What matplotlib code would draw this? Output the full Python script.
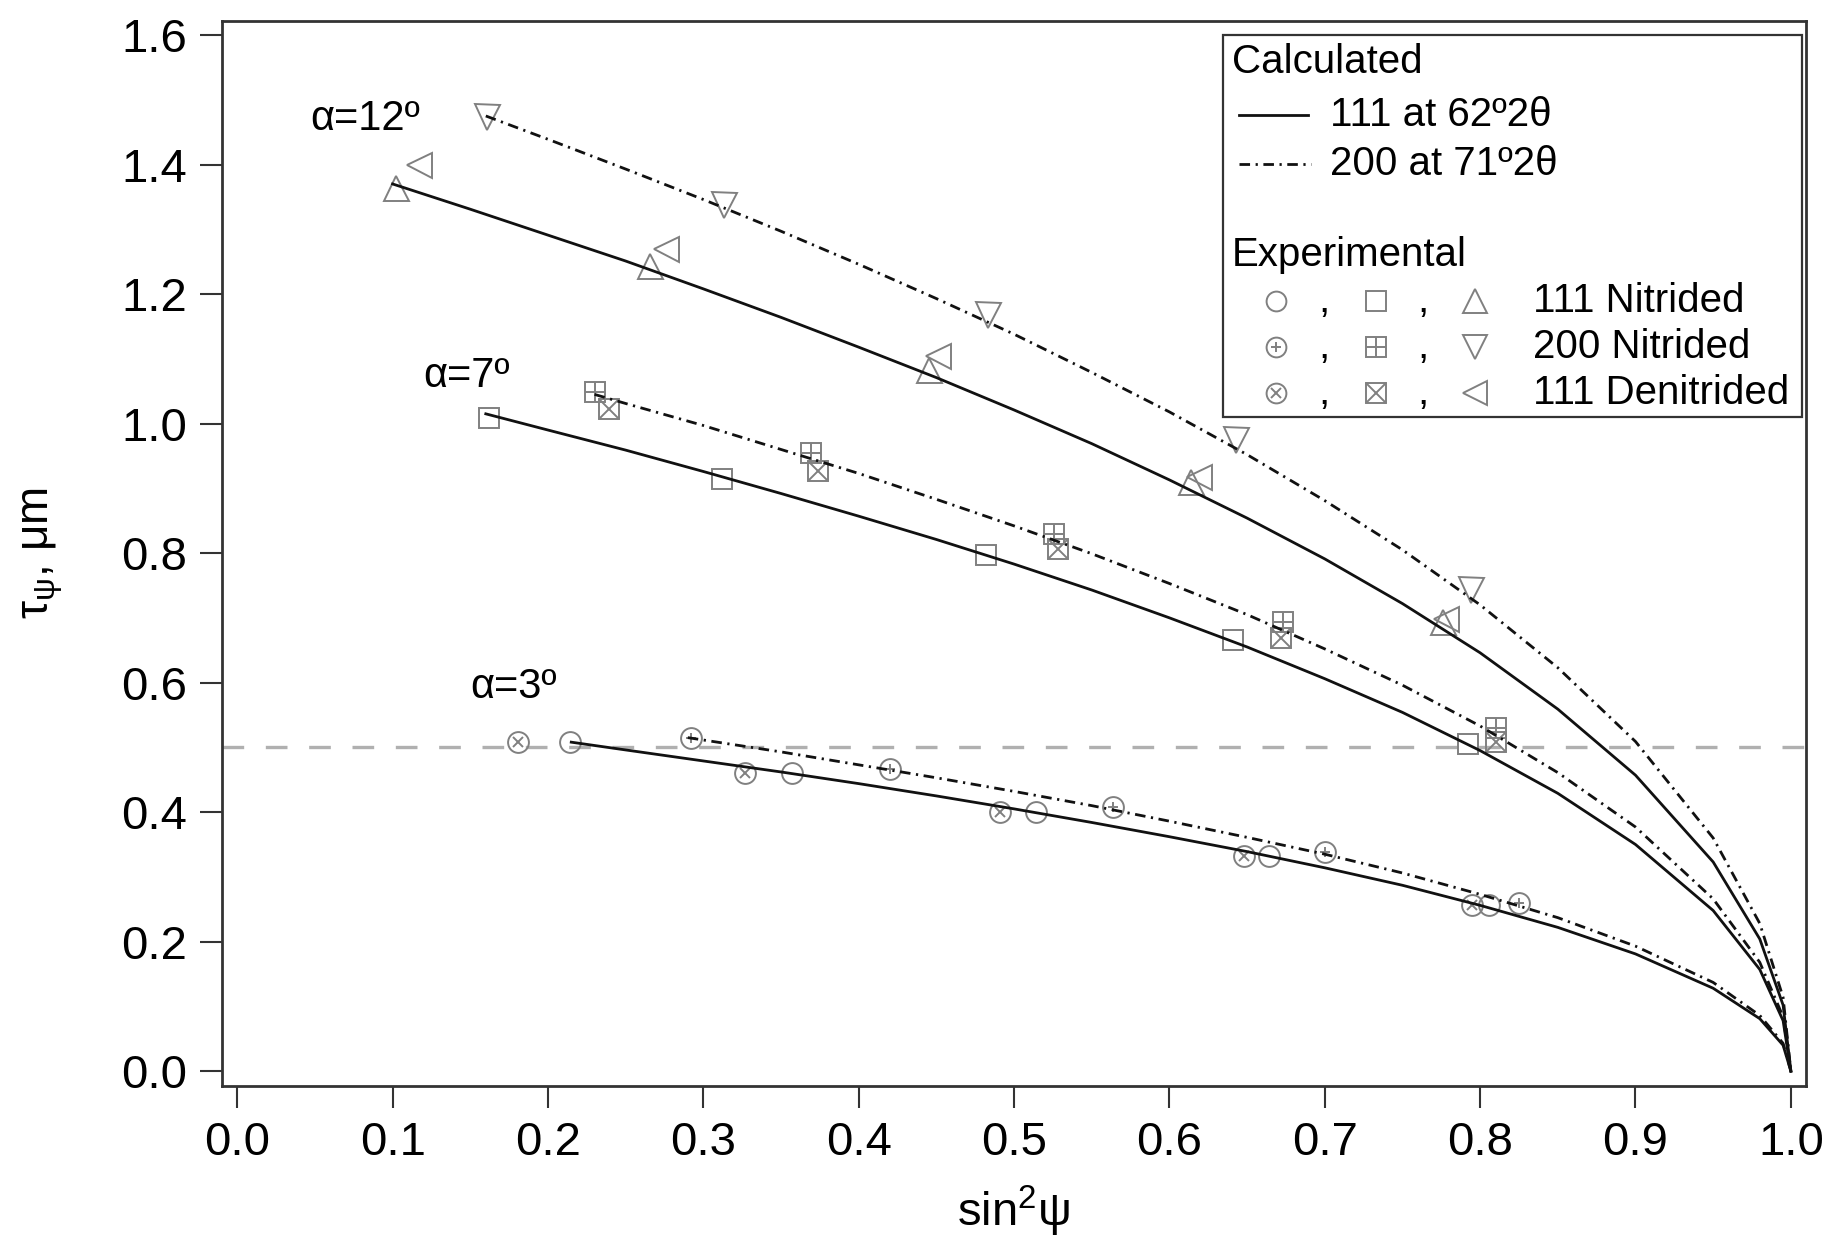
import numpy as np
import matplotlib
matplotlib.use('Agg')
import matplotlib.pyplot as plt
from matplotlib.patches import Rectangle

plt.rcParams['font.family'] = ['Liberation Sans', 'DejaVu Sans']
plt.rcParams['mathtext.fontset'] = 'custom'
plt.rcParams['mathtext.rm'] = 'Liberation Sans'
plt.rcParams['mathtext.it'] = 'Liberation Sans'
plt.rcParams['mathtext.default'] = 'regular'

# calculated curves
grid_a = [0.20, 0.25, 0.30, 0.35, 0.40, 0.45, 0.50, 0.55, 0.60, 0.65, 0.70, 0.75, 0.80, 0.85,
          0.90, 0.95, 0.98, 0.995, 1.0]
calc_x_12_111 = [0.10, 0.15] + grid_a
calc_t_12_111 = [1.37, 1.331, 1.291, 1.251, 1.208, 1.164, 1.118, 1.071, 1.021, 0.969, 0.913,
                 0.854, 0.791, 0.722, 0.646, 0.559, 0.457, 0.323, 0.204, 0.102, 0.0]
calc_x_12_200 = [0.16] + grid_a
calc_t_12_200 = [1.475, 1.439, 1.393, 1.346, 1.297, 1.246, 1.193, 1.138, 1.079, 1.018, 0.952,
                 0.881, 0.805, 0.72, 0.623, 0.509, 0.36, 0.228, 0.114, 0.0]
calc_x_7_111 = [0.16] + grid_a
calc_t_7_111 = [1.015, 0.99, 0.959, 0.926, 0.892, 0.857, 0.821, 0.783, 0.743, 0.70, 0.655,
                0.606, 0.554, 0.495, 0.429, 0.35, 0.248, 0.157, 0.078, 0.0]
calc_x_7_200 = [0.23] + grid_a[1:]
calc_t_7_200 = [1.045, 1.031, 0.997, 0.96, 0.923, 0.883, 0.842, 0.799, 0.753, 0.705, 0.652,
                0.596, 0.533, 0.461, 0.377, 0.266, 0.168, 0.084, 0.0]
calc_x_3_111 = [0.215] + grid_a[1:]
calc_t_3_111 = [0.508, 0.496, 0.479, 0.462, 0.444, 0.425, 0.405, 0.384, 0.362, 0.339, 0.314,
                0.287, 0.256, 0.222, 0.181, 0.128, 0.081, 0.040, 0.0]
calc_x_3_200 = [0.29] + grid_a[3:]
calc_t_3_200 = [0.515, 0.493, 0.473, 0.453, 0.432, 0.41, 0.386, 0.361, 0.335, 0.306, 0.273,
                0.237, 0.193, 0.137, 0.086, 0.043, 0.0]

# experimental points
# alpha = 3
x_3_111N = [0.214, 0.357, 0.514, 0.664, 0.806]
t_3_111N = [0.509, 0.460, 0.400, 0.332, 0.256]
x_3_200N = [0.292, 0.420, 0.564, 0.700, 0.825]
t_3_200N = [0.514, 0.467, 0.408, 0.339, 0.260]
x_3_111D = [0.181, 0.327, 0.491, 0.648, 0.795]
t_3_111D = [0.509, 0.460, 0.400, 0.332, 0.256]
# alpha = 7
x_7_111N = [0.162, 0.312, 0.482, 0.641, 0.792]
t_7_111N = [1.008, 0.914, 0.797, 0.666, 0.505]
x_7_200N = [0.230, 0.369, 0.526, 0.673, 0.810]
t_7_200N = [1.048, 0.954, 0.830, 0.693, 0.530]
x_7_111D = [0.239, 0.374, 0.528, 0.672, 0.810]
t_7_111D = [1.023, 0.927, 0.806, 0.669, 0.509]
# alpha = 12
x_12_111N = [0.102, 0.266, 0.445, 0.614, 0.776]
t_12_111N = [1.364, 1.243, 1.082, 0.909, 0.694]
x_12_200N = [0.161, 0.313, 0.483, 0.643, 0.794]
t_12_200N = [1.474, 1.338, 1.167, 0.974, 0.743]
x_12_111D = [0.117, 0.276, 0.451, 0.619, 0.778]
t_12_111D = [1.400, 1.270, 1.104, 0.918, 0.698]

xticks = [0.0, 0.1, 0.2, 0.3, 0.4, 0.5, 0.6, 0.7, 0.8, 0.9, 1.0]
yticks = [0.0, 0.2, 0.4, 0.6, 0.8, 1.0, 1.2, 1.4, 1.6]

gray = '#808080'
dashdot = (0, (3.8, 2.0, 0.8, 2.0))
LW = 2.0

# marker recipes: list of (marker, size)
M_CIRC = [('o', 15)]
M_CIRC_P = [('o', 15), ('+', 7)]
M_CIRC_X = [('o', 15), ('x', 7)]
M_SQ = [('s', 15)]
M_SQ_P = [('s', 15), ('+', 15)]
M_SQ_X = [('s', 15), ('x', 15)]
M_TUP = [('^', 18)]
M_TDN = [('v', 18)]
M_TLF = [('<', 18)]


def draw_marker(ax, x, y, recipe, **kw):
    for m, s in recipe:
        ax.plot(x, y, linestyle='none', marker=m, markersize=s, markerfacecolor='none',
                markeredgecolor=gray, markeredgewidth=1.4, zorder=3, **kw)


fig = plt.figure(figsize=(18.32, 12.58), dpi=100)
ax = fig.add_axes([0.121, 0.1367, 0.8646, 0.8468])

ax.axhline(0.5, color='#b0b0b0', lw=2.4, dashes=(6.5, 6.5), zorder=1)

draw_marker(ax, x_3_111N, t_3_111N, M_CIRC)
draw_marker(ax, x_3_200N, t_3_200N, M_CIRC_P)
draw_marker(ax, x_3_111D, t_3_111D, M_CIRC_X)
draw_marker(ax, x_7_111N, t_7_111N, M_SQ)
draw_marker(ax, x_7_200N, t_7_200N, M_SQ_P)
draw_marker(ax, x_7_111D, t_7_111D, M_SQ_X)
draw_marker(ax, x_12_111N, t_12_111N, M_TUP)
draw_marker(ax, x_12_200N, t_12_200N, M_TDN)
draw_marker(ax, x_12_111D, t_12_111D, M_TLF)

for xs, ts in [(calc_x_12_111, calc_t_12_111), (calc_x_7_111, calc_t_7_111), (calc_x_3_111, calc_t_3_111)]:
    ax.plot(xs, ts, color='#111111', lw=LW, zorder=4)
for xs, ts in [(calc_x_12_200, calc_t_12_200), (calc_x_7_200, calc_t_7_200), (calc_x_3_200, calc_t_3_200)]:
    ax.plot(xs, ts, color='#111111', lw=LW, linestyle=dashdot, zorder=4)

ax.text(0.047, 1.47, 'α=12º', fontsize=30, va='center', ha='left')
ax.text(0.120, 1.073, 'α=7º', fontsize=30, va='center', ha='left')
ax.text(0.150, 0.593, 'α=3º', fontsize=30, va='center', ha='left')

ax.set_xlim(-0.01, 1.0095)
ax.set_ylim(-0.023, 1.622)
ax.set_xticks(xticks)
ax.set_yticks(yticks)
ax.set_xticklabels(['%.1f' % v for v in xticks])
ax.set_yticklabels(['%.1f' % v for v in yticks])
ax.tick_params(direction='out', length=16, width=1.5, pad=9, labelsize=34,
               color='#333333', top=False, right=False)
for sp in ax.spines.values():
    sp.set_color('#333333')
    sp.set_linewidth(2.0)

ax.set_xlabel(r'sin$^{2}$ψ', fontsize=34, labelpad=14)
ax.set_ylabel(r'$\tau_{\psi}$, μm', fontsize=33, labelpad=40)

# legend box drawn by hand
T = ax.transAxes
ax.add_patch(Rectangle((0.632, 0.628), 0.3657, 0.3586, transform=T, facecolor='white',
                       edgecolor='#333333', lw=1.6, zorder=6))
ax.text(0.638, 0.9613, 'Calculated', transform=T, fontsize=29, va='center', zorder=7)
ax.plot([0.642, 0.686], [0.912, 0.912], transform=T, color='#111111', lw=LW, zorder=7)
ax.text(0.6995, 0.912, '111 at 62º2θ', transform=T, fontsize=29, va='center', zorder=7)
ax.plot([0.642, 0.688], [0.866, 0.866], transform=T, color='#111111', lw=LW,
        linestyle=dashdot, zorder=7)
ax.text(0.6995, 0.866, '200 at 71º2θ', transform=T, fontsize=29, va='center', zorder=7)
ax.text(0.638, 0.780, 'Experimental', transform=T, fontsize=29, va='center', zorder=7)

rows = [(0.7365, [M_CIRC, M_SQ, M_TUP], '111 Nitrided'),
        (0.6937, [M_CIRC_P, M_SQ_P, M_TDN], '200 Nitrided'),
        (0.651, [M_CIRC_X, M_SQ_X, M_TLF], '111 Denitrided')]
mx = [0.6655, 0.729, 0.791]
for yy, recipes, label in rows:
    for xx, rec in zip(mx, recipes):
        for m, s in rec:
            ax.plot([xx], [yy], transform=T, linestyle='none', marker=m, markersize=s * 0.95,
                    markerfacecolor='none', markeredgecolor=gray, markeredgewidth=1.4,
                    zorder=7, clip_on=False)
    ax.text(0.696, yy, ',', transform=T, fontsize=29, va='center', ha='center', zorder=7)
    ax.text(0.7585, yy, ',', transform=T, fontsize=29, va='center', ha='center', zorder=7)
    ax.text(0.828, yy, label, transform=T, fontsize=29, va='center', zorder=7)

fig.savefig('out.png', dpi=100)
